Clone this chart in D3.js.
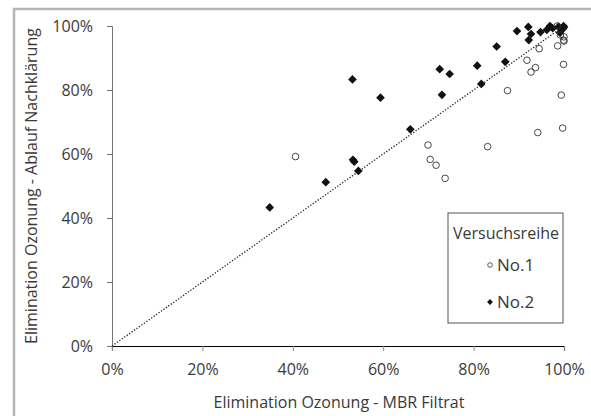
<!DOCTYPE html>
<html>
<head>
<meta charset="utf-8">
<script src="https://cdn.jsdelivr.net/npm/d3@7"></script>
<style>
  body { margin: 0; background: #fff; }
  text { font-family: "Open Sans", sans-serif; fill: #3a3a3a; }
</style>
</head>
<body>
<svg id="chart" width="591" height="416"></svg>
<script>
const width = 591, height = 416;

// Versuchsreihe No.1 (open circles): [MBR Filtrat, Ablauf Nachklärung] in %
const serie1X = [40.6, 69.9, 70.4, 71.7, 73.7, 83.1, 87.5, 91.8, 93.7, 92.7, 94.5, 94.2, 98.6, 99.9, 99.4, 99.7, 99.9, 100, 98.5, 100, 99.2];
const serie1Y = [59.2, 62.8, 58.3, 56.5, 52.4, 62.3, 79.8, 89.3, 87.0, 85.6, 92.9, 66.7, 93.8, 88.0, 78.4, 68.1, 95.6, 96.6, 100, 95.3, 97.2];

// Versuchsreihe No.2 (filled diamonds)
const serie2X = [34.9, 47.3, 53.3, 53.6, 54.5, 53.2, 59.4, 66.0, 72.5, 74.7, 73.0, 80.8, 81.7, 85.1, 87.0, 89.6, 92.1, 92.7, 92.2, 94.8, 96.2, 96.9, 97.5, 99.1, 99.5, 99.9, 100, 99.7, 98.8];
const serie2Y = [43.3, 51.2, 58.2, 57.6, 54.7, 83.3, 77.6, 67.7, 86.5, 85.0, 78.5, 87.6, 81.9, 93.6, 88.8, 98.4, 99.7, 97.5, 95.6, 98.1, 98.8, 100, 99.3, 97.9, 98.8, 100, 99.6, 99.1, 99.8];

const ticks = [0, 20, 40, 60, 80, 100];
const legendTitle = "Versuchsreihe";
const seriesNames = ["No.1", "No.2"];

const svg = d3.select("#chart");

// outer frame
svg.append("rect")
  .attr("x", 14).attr("y", 9)
  .attr("width", 620).attr("height", 450)
  .attr("fill", "none")
  .attr("stroke", "#b4b4b4")
  .attr("stroke-width", 2.5);

const x = d3.scaleLinear().domain([0, 100]).range([112, 564]);
const y = d3.scaleLinear().domain([0, 100]).range([346, 26]);

const fmt = d => d + "%";

// x axis
const gx = svg.append("g")
  .attr("transform", `translate(0,${y(0)})`)
  .call(d3.axisBottom(x).tickValues(ticks).tickFormat(fmt).tickSize(5).tickPadding(13));
gx.select(".domain").attr("stroke", "#000").attr("stroke-width", 1.2);
gx.selectAll(".tick line").attr("stroke", "#888");
gx.selectAll("text").style("font-size", "16px").attr("fill", "#3a3a3a");

// y axis
const gy = svg.append("g")
  .attr("transform", `translate(${x(0)},0)`)
  .call(d3.axisLeft(y).tickValues(ticks).tickFormat(fmt).tickSize(5).tickPadding(14));
gy.select(".domain").attr("stroke", "#777").attr("stroke-width", 1);
gy.selectAll(".tick line").attr("stroke", "#777");
gy.selectAll("text").style("font-size", "16px").attr("fill", "#3a3a3a");

// axis titles
svg.append("text")
  .attr("x", (x(0) + x(100)) / 2 + 1).attr("y", 408)
  .attr("text-anchor", "middle")
  .style("font-size", "16px")
  .text("Elimination Ozonung - MBR Filtrat");

svg.append("text")
  .attr("transform", `translate(37,${(y(0) + y(100)) / 2}) rotate(-90)`)
  .attr("text-anchor", "middle")
  .style("font-size", "16px")
  .text("Elimination Ozonung - Ablauf Nachklärung");

// 1:1 line
svg.append("line")
  .attr("x1", x(0)).attr("y1", y(0))
  .attr("x2", x(100)).attr("y2", y(100))
  .attr("stroke", "#222")
  .attr("stroke-width", 1.3)
  .attr("stroke-dasharray", "1.3,1.7");

const diamond = d3.symbol().type(d3.symbolDiamond2).size(48);

// series 2 diamonds
svg.append("g").selectAll("path")
  .data(serie2X.map((v, i) => [v, serie2Y[i]]))
  .join("path")
  .attr("d", diamond)
  .attr("transform", d => `translate(${x(d[0])},${y(d[1])})`)
  .attr("fill", "#111");

// series 1 circles
svg.append("g").selectAll("circle")
  .data(serie1X.map((v, i) => [v, serie1Y[i]]))
  .join("circle")
  .attr("cx", d => x(d[0]))
  .attr("cy", d => y(d[1]))
  .attr("r", 3.3)
  .attr("fill", "none")
  .attr("stroke", "#333")
  .attr("stroke-width", 0.9);

// legend
const lg = svg.append("g");
lg.append("rect")
  .attr("x", 448).attr("y", 213)
  .attr("width", 115).attr("height", 110)
  .attr("fill", "#fff")
  .attr("stroke", "#555")
  .attr("stroke-width", 1);
lg.append("text")
  .attr("x", 506).attr("y", 239)
  .attr("text-anchor", "middle")
  .style("font-size", "16px")
  .text(legendTitle);
lg.append("circle")
  .attr("cx", 490).attr("cy", 265).attr("r", 2.3)
  .attr("fill", "none").attr("stroke", "#333").attr("stroke-width", 0.8);
lg.append("path")
  .attr("d", d3.symbol().type(d3.symbolDiamond2).size(22))
  .attr("transform", "translate(490,302)")
  .attr("fill", "#111");
seriesNames.forEach((s, i) => {
  lg.append("text")
    .attr("x", 497).attr("y", 271 + i * 37)
    .style("font-size", "17px")
    .text(s);
});
</script>
</body>
</html>
